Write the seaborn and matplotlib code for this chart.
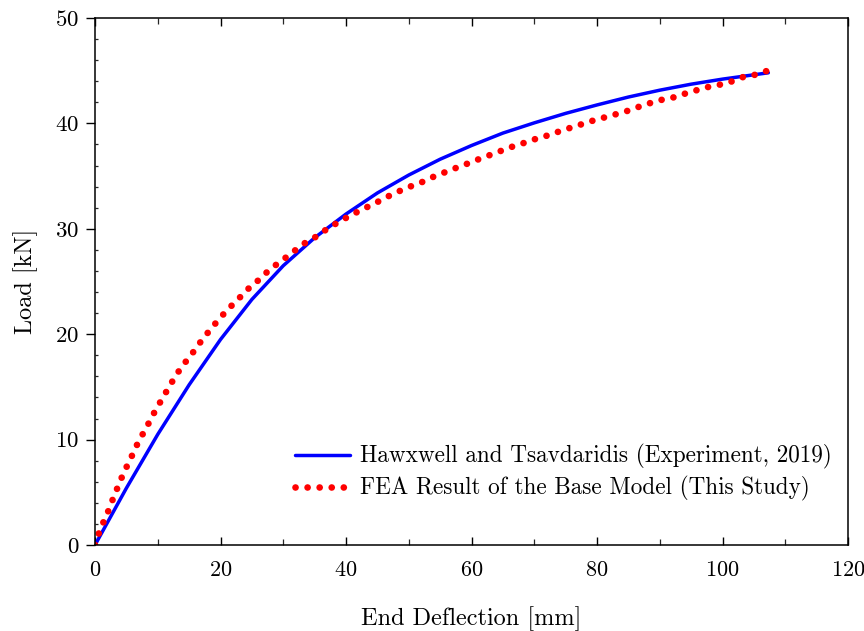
import numpy as np
import pandas as pd
import matplotlib
matplotlib.use("Agg")
import matplotlib.pyplot as plt
import seaborn as sns
from matplotlib.ticker import MultipleLocator

# ---- data ----
exp_defl = [0, 5, 10, 15, 20, 25, 30, 35, 40, 45, 50, 55, 60, 65, 70, 75, 80, 85, 90, 95, 100, 107.3]
exp_load = [0, 5.4, 10.5, 15.2, 19.5, 23.3, 26.5, 29.15, 31.4, 33.4, 35.1, 36.6, 37.9,
            39.08, 40.05, 40.95, 41.75, 42.5, 43.15, 43.72, 44.2, 44.8]

fea_defl = [0, 0.64, 1.43, 2.28, 2.98, 3.83, 4.62, 5.58, 6.48, 7.49, 8.5, 9.56, 10.68, 11.8, 13.0,
            14.34, 15.78, 17.1, 18.6, 20.0, 21.5, 23.1, 24.5, 26.0, 27.6, 29.1, 30.7, 32.2, 33.8,
            35.4, 37.0, 38.7, 40.2, 41.8, 43.5, 45.2, 46.8, 48.6, 50.2, 52.0, 53.8, 55.5, 57.2,
            59.0, 60.7, 62.5, 64.3, 66.0, 67.7, 69.5, 71.3, 72.9, 74.7, 76.5, 78.4, 80.2, 82.0,
            83.8, 85.5, 87.2, 88.9, 90.7, 92.5, 94.4, 96.2, 98.0, 99.8, 101.6, 103.3, 105.1, 107.2]
fea_load = [0, 1.17, 2.3, 3.45, 4.58, 5.79, 6.93, 8.06, 9.27, 10.4, 11.5, 12.7, 13.85, 15.0, 16.2,
            17.3, 18.4, 19.5, 20.6, 21.6, 22.55, 23.5, 24.35, 25.1, 26.0, 26.7, 27.4, 28.1, 28.8,
            29.3, 30.0, 30.6, 31.1, 31.6, 32.1, 32.6, 33.1, 33.6, 34.0, 34.4, 34.9, 35.3, 35.7,
            36.1, 36.5, 36.9, 37.3, 37.7, 38.0, 38.4, 38.7, 39.0, 39.4, 39.7, 40.1, 40.4, 40.7,
            41.0, 41.3, 41.7, 42.0, 42.3, 42.5, 42.9, 43.2, 43.5, 43.7, 44.0, 44.4, 44.6, 45.0]

exp_label = "Hawxwell and Tsavdaridis (Experiment, 2019)"
fea_label = "FEA Result of the Base Model (This Study)"
x_title = "End Deflection [mm]"
y_title = "Load [kN]"

sns.set_theme(style="ticks")
plt.rcParams["font.family"] = ["cmr10", "DejaVu Serif"]
plt.rcParams["mathtext.fontset"] = "cm"
plt.rcParams["axes.formatter.use_mathtext"] = True
plt.rcParams["axes.unicode_minus"] = False
plt.rcParams["lines.dash_capstyle"] = "round"
plt.rcParams["lines.solid_capstyle"] = "round"

fig = plt.figure(figsize=(8.64, 6.31), dpi=100)
ax = fig.add_axes([0.110, 0.1363, 0.8715, 0.8352])

df_exp = pd.DataFrame({"x": exp_defl, "y": exp_load})
df_fea = pd.DataFrame({"x": fea_defl, "y": fea_load})

sns.lineplot(data=df_exp, x="x", y="y", ax=ax, color="#0000ff", linewidth=2.5,
             sort=False, estimator=None, label=exp_label)
sns.lineplot(data=df_fea, x="x", y="y", ax=ax, color="#ff0000", linewidth=4.8,
             sort=False, estimator=None, label=fea_label)
ax.lines[1].set_linestyle((0, (0.01, 1.8)))
ax.lines[1].set_dash_capstyle("round")

ax.set_xlim(0, 120)
ax.set_ylim(0, 50)
ax.xaxis.set_major_locator(MultipleLocator(20))
ax.xaxis.set_minor_locator(MultipleLocator(10))
ax.yaxis.set_major_locator(MultipleLocator(10))
ax.yaxis.set_minor_locator(MultipleLocator(2))

for s in ax.spines.values():
    s.set_linewidth(1.1)
    s.set_color("black")

ax.tick_params(axis="x", which="major", direction="in", length=6, width=1.0, top=True,
               labelsize=16, pad=11, colors="black")
ax.tick_params(axis="x", which="minor", direction="in", length=4, width=0.9, top=True)
ax.tick_params(axis="y", which="major", direction="out", length=6.5, width=1.0, right=False,
               labelsize=16.5, pad=5, colors="black")
ax.tick_params(axis="y", which="minor", direction="in", length=2, width=0.9, right=False)

ax.set_xlabel(x_title, fontsize=17.5, labelpad=19, color="black")
ax.set_ylabel(y_title, fontsize=17.5, labelpad=12, color="black")

leg = ax.legend(loc="lower right", frameon=False, fontsize=16.7, handlelength=2.4,
                handletextpad=0.43, labelspacing=0.3, borderpad=0, borderaxespad=0,
                bbox_to_anchor=(0.9788, 0.083))
for t in leg.get_texts():
    t.set_color("black")

fig.savefig("out.png", dpi=100)
